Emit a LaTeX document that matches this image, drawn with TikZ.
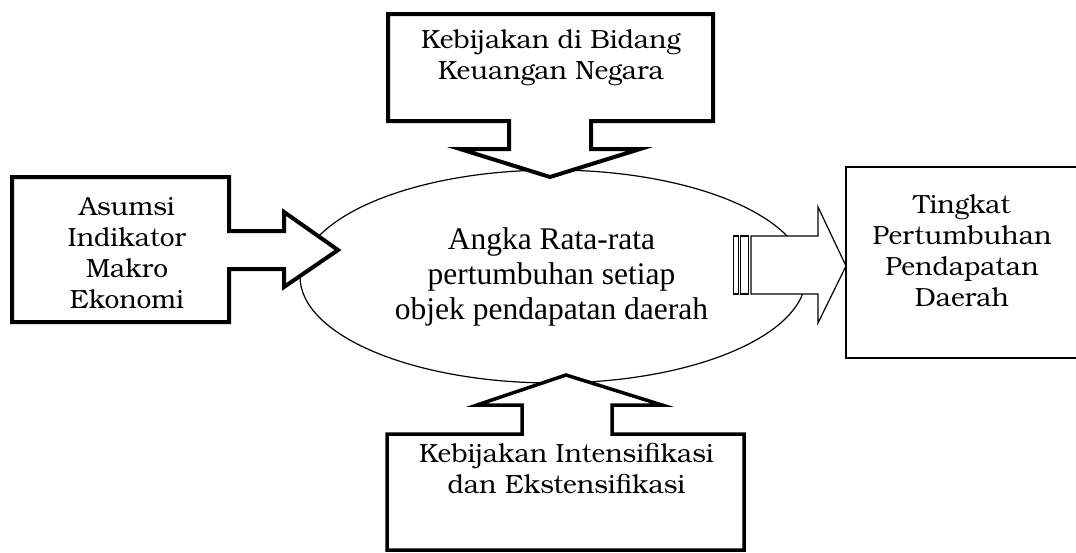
\documentclass[tikz,border=0pt]{standalone}
\usepackage{fontspec}
\usetikzlibrary{shapes.geometric}
\setmainfont{Liberation Serif}
\newfontfamily\bkfont{TeX Gyre Bonum}
\newcommand{\bk}{\bkfont\fontsize{26.3}{31}\selectfont}
\newcommand{\tm}{\fontsize{31.5}{35}\selectfont}
\begin{document}
\begin{tikzpicture}[x=1pt,y=-1pt,
  callout/.style={draw=black,fill=white,line width=4pt,line join=miter},
  thin/.style={draw=black,fill=white,line width=1.2pt,line join=miter},
  txt/.style={inner sep=0pt,anchor=base,font=\bk},
  etxt/.style={inner sep=0pt,anchor=base,font=\tm}]
\useasboundingbox (0,0) rectangle (1076,552);
% central ellipse
\node[draw=black,line width=1.2pt,ellipse,minimum width=506pt,minimum height=213pt,inner sep=0pt] (ell) at (553,276.5) {};
\node[etxt] (etext) at (551.5,249) {\begin{tabular}[t]{@{}c@{}}Angka Rata-rata\\pertumbuhan setiap\\objek pendapatan daerah\end{tabular}};
% top callout
\draw[callout] (388,14) -- (713,14) -- (713,121) -- (591,121) -- (591,149) -- (640,149) -- (550,177) -- (460,149) -- (509,149) -- (509,121) -- (388,121) -- cycle;
\node[txt] (top) at (551,48) {\begin{tabular}[t]{@{}c@{}}Kebijakan di Bidang\\Keuangan Negara\end{tabular}};
% left callout
\draw[callout] (12,177) -- (229,177) -- (229,231) -- (284,231) -- (284,212) -- (338,250) -- (284,287) -- (284,269) -- (229,269) -- (229,322) -- (12,322) -- cycle;
\node[txt] (left) at (127,215) {\begin{tabular}[t]{@{}c@{}}Asumsi\\Indikator\\Makro\\Ekonomi\end{tabular}};
% bottom callout
\draw[callout,line width=3.5pt] (387,550) -- (387,434) -- (522,434) -- (522,405) -- (477,405) -- (566,375) -- (662,405) -- (612,405) -- (612,434) -- (744,434) -- (744,550) -- cycle;
\node[txt] (bottom) at (566.5,462) {\begin{tabular}[t]{@{}c@{}}Kebijakan Intensifikasi\\dan Ekstensifikasi\end{tabular}};
% right box
\draw[line width=2.7pt] (846,167) rectangle (1082,358);
\node[txt] (right) at (962,213) {\begin{tabular}[t]{@{}c@{}}Tingkat\\Pertumbuhan\\Pendapatan\\Daerah\end{tabular}};
% striped arrow
\draw[thin] (733.3,236) rectangle (738.3,294);
\draw[thin] (740.7,236) rectangle (748.3,294);
\draw[thin] (751,236) -- (818,236) -- (818,207) -- (846,266) -- (818,323) -- (818,294) -- (751,294) -- cycle;
\end{tikzpicture}
\end{document}
